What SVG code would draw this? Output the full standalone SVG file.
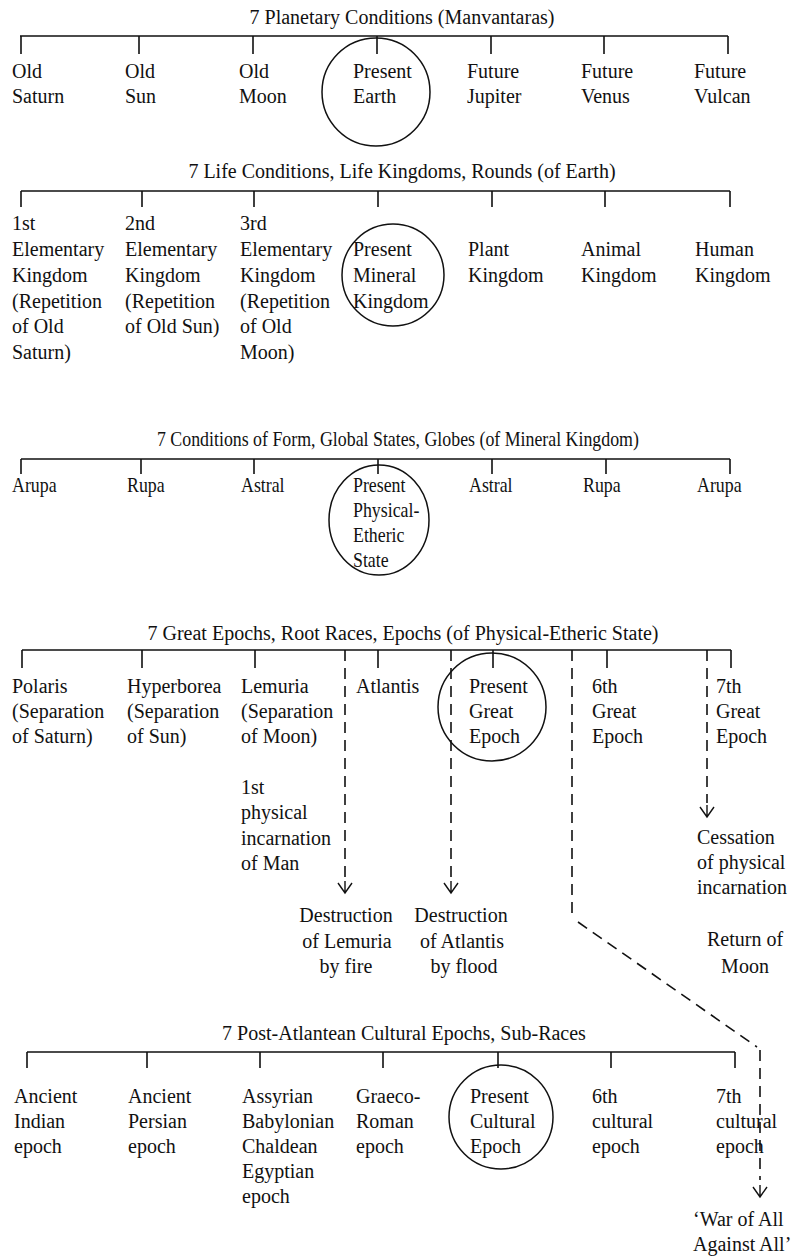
<svg xmlns="http://www.w3.org/2000/svg" width="793" height="1259" viewBox="0 0 793 1259">
<style>
text { font-family: "Liberation Serif", "Times New Roman", serif; font-size: 20px; fill: #111; }
.mid { text-anchor: middle; }
.cond { font-size: 21px; }
.ln { stroke: #111; stroke-width: 1.6; fill: none; }
.dash { stroke: #111; stroke-width: 1.6; fill: none; stroke-dasharray: 11 7; }
.ring { stroke: #111; stroke-width: 1.5; fill: none; }
.arr { stroke: #111; stroke-width: 1.4; fill: none; }
</style>
<rect width="793" height="1259" fill="#fff"/>

<g id="connectors">
  <!-- Section 1 -->
  <path class="ln" d="M20 36 H728 M21 36 V54 M139 36 V54 M253 36 V54 M377 36 V54 M491 36 V54 M604 36 V54 M728 36 V54"/>
  <!-- Section 2 -->
  <path class="ln" d="M21 191 H730 M21 191 V207 M142 191 V207 M254 191 V207 M378 191 V207 M492 191 V207 M605 191 V207 M730 191 V207"/>
  <!-- Section 3 -->
  <path class="ln" d="M21 459 H730 M21 459 V474 M141 459 V474 M254 459 V474 M378 459 V474 M492 459 V474 M606 459 V474 M730 459 V474"/>
  <!-- Section 4 -->
  <path class="ln" d="M22 650 H731 M22 650 V668 M142 650 V668 M255 650 V668 M378 650 V668 M493 650 V668 M607 650 V668 M731 650 V668"/>
  <path class="dash" d="M345 650 V880"/>
  <path class="dash" d="M451 650 V880"/>
  <path class="dash" d="M707 650 V803"/>
  <path class="dash" d="M572 650 V913 M578 922 L757 1047 M760 1050 V1180"/>
  <path class="arr" d="M338 883 L345 893 L352 883 M345 881 V893"/>
  <path class="arr" d="M444 883 L451 893 L458 883 M451 881 V893"/>
  <path class="arr" d="M700 807 L707 817 L714 807 M707 805 V817"/>
  <path class="arr" d="M753 1187 L760 1197 L767 1187 M760 1185 V1197"/>
  <!-- Section 5 -->
  <path class="ln" d="M27 1052 H735 M27 1052 V1068 M147 1052 V1068 M260 1052 V1068 M383 1052 V1068 M498 1052 V1068 M611 1052 V1068 M735 1052 V1068"/>
</g>

<!-- Section 1 -->
<g id="title-planetary"><text class="mid" x="402" y="24">7 Planetary Conditions (Manvantaras)</text></g>
<g id="old-saturn"><text x="12" y="78">Old</text><text x="12" y="103">Saturn</text></g>
<g id="old-sun"><text x="125" y="78">Old</text><text x="125" y="103">Sun</text></g>
<g id="old-moon"><text x="239" y="78">Old</text><text x="239" y="103">Moon</text></g>
<g id="present-earth"><circle class="ring" cx="376" cy="92" r="54"/><text x="353" y="78">Present</text><text x="353" y="103">Earth</text></g>
<g id="future-jupiter"><text x="467" y="78">Future</text><text x="467" y="103">Jupiter</text></g>
<g id="future-venus"><text x="581" y="78">Future</text><text x="581" y="103">Venus</text></g>
<g id="future-vulcan"><text x="694" y="78">Future</text><text x="694" y="103">Vulcan</text></g>

<!-- Section 2 -->
<g id="title-life"><text class="mid" x="402" y="178">7 Life Conditions, Life Kingdoms, Rounds (of Earth)</text></g>
<g id="elem-1"><text x="12" y="230">1st</text><text x="12" y="256">Elementary</text><text x="12" y="282">Kingdom</text><text x="12" y="308">(Repetition</text><text x="12" y="333">of Old</text><text x="12" y="359">Saturn)</text></g>
<g id="elem-2"><text x="125" y="230">2nd</text><text x="125" y="256">Elementary</text><text x="125" y="282">Kingdom</text><text x="125" y="308">(Repetition</text><text x="125" y="333">of Old Sun)</text></g>
<g id="elem-3"><text x="240" y="230">3rd</text><text x="240" y="256">Elementary</text><text x="240" y="282">Kingdom</text><text x="240" y="308">(Repetition</text><text x="240" y="333">of Old</text><text x="240" y="359">Moon)</text></g>
<g id="present-mineral"><circle class="ring" cx="393" cy="275" r="51"/><text x="353" y="256">Present</text><text x="353" y="282">Mineral</text><text x="353" y="308">Kingdom</text></g>
<g id="plant"><text x="468" y="256">Plant</text><text x="468" y="282">Kingdom</text></g>
<g id="animal"><text x="581" y="256">Animal</text><text x="581" y="282">Kingdom</text></g>
<g id="human"><text x="695" y="256">Human</text><text x="695" y="282">Kingdom</text></g>

<!-- Section 3 (condensed type) -->
<g id="title-form"><text class="cond" transform="matrix(0.85 0 0 1 157 446)">7 Conditions of Form, Global States, Globes (of Mineral Kingdom)</text></g>
<g id="arupa-1"><text class="cond" transform="matrix(0.85 0 0 1 12 492)">Arupa</text></g>
<g id="rupa-1"><text class="cond" transform="matrix(0.85 0 0 1 127 492)">Rupa</text></g>
<g id="astral-1"><text class="cond" transform="matrix(0.85 0 0 1 241 492)">Astral</text></g>
<g id="present-physical"><ellipse class="ring" cx="379" cy="520" rx="50" ry="55"/>
  <text class="cond" transform="matrix(0.85 0 0 1 353 492)">Present</text>
  <text class="cond" transform="matrix(0.85 0 0 1 353 517)">Physical-</text>
  <text class="cond" transform="matrix(0.85 0 0 1 353 542)">Etheric</text>
  <text class="cond" transform="matrix(0.85 0 0 1 353 567)">State</text></g>
<g id="astral-2"><text class="cond" transform="matrix(0.85 0 0 1 469 492)">Astral</text></g>
<g id="rupa-2"><text class="cond" transform="matrix(0.85 0 0 1 583 492)">Rupa</text></g>
<g id="arupa-2"><text class="cond" transform="matrix(0.85 0 0 1 697 492)">Arupa</text></g>

<!-- Section 4 -->
<g id="title-great"><text class="mid" x="403" y="640">7 Great Epochs, Root Races, Epochs (of Physical-Etheric State)</text></g>
<g id="polaris"><text x="12" y="693">Polaris</text><text x="12" y="718">(Separation</text><text x="12" y="743">of Saturn)</text></g>
<g id="hyperborea"><text x="127" y="693">Hyperborea</text><text x="127" y="718">(Separation</text><text x="127" y="743">of Sun)</text></g>
<g id="lemuria"><text x="241" y="693">Lemuria</text><text x="241" y="718">(Separation</text><text x="241" y="743">of Moon)</text></g>
<g id="first-incarnation"><text x="241" y="794">1st</text><text x="241" y="819">physical</text><text x="241" y="845">incarnation</text><text x="241" y="870">of Man</text></g>
<g id="atlantis"><text x="356" y="693">Atlantis</text></g>
<g id="present-great"><circle class="ring" cx="492" cy="707" r="54"/><text x="469" y="693">Present</text><text x="469" y="718">Great</text><text x="469" y="743">Epoch</text></g>
<g id="great-6"><text x="592" y="693">6th</text><text x="592" y="718">Great</text><text x="592" y="743">Epoch</text></g>
<g id="great-7"><text x="716" y="693">7th</text><text x="716" y="718">Great</text><text x="716" y="743">Epoch</text></g>
<g id="destruction-lemuria"><text class="mid" x="346" y="922">Destruction</text><text class="mid" x="347" y="948">of Lemuria</text><text class="mid" x="346" y="973">by fire</text></g>
<g id="destruction-atlantis"><text class="mid" x="461" y="922">Destruction</text><text class="mid" x="462" y="948">of Atlantis</text><text class="mid" x="464" y="973">by flood</text></g>
<g id="cessation"><text x="697" y="844">Cessation</text><text x="697" y="869">of physical</text><text x="697" y="894">incarnation</text></g>
<g id="return-moon"><text class="mid" x="745" y="946">Return of</text><text class="mid" x="745" y="973">Moon</text></g>

<!-- Section 5 -->
<g id="title-cultural"><text class="mid" x="404" y="1040">7 Post-Atlantean Cultural Epochs, Sub-Races</text></g>
<g id="indian"><text x="14" y="1103">Ancient</text><text x="14" y="1128">Indian</text><text x="14" y="1153">epoch</text></g>
<g id="persian"><text x="128" y="1103">Ancient</text><text x="128" y="1128">Persian</text><text x="128" y="1153">epoch</text></g>
<g id="egyptian"><text x="242" y="1103">Assyrian</text><text x="242" y="1128">Babylonian</text><text x="242" y="1153">Chaldean</text><text x="242" y="1178">Egyptian</text><text x="242" y="1203">epoch</text></g>
<g id="graeco-roman"><text x="356" y="1103">Graeco-</text><text x="356" y="1128">Roman</text><text x="356" y="1153">epoch</text></g>
<g id="present-cultural"><circle class="ring" cx="501" cy="1117" r="52"/><text x="470" y="1103">Present</text><text x="470" y="1128">Cultural</text><text x="470" y="1153">Epoch</text></g>
<g id="cultural-6"><text x="592" y="1103">6th</text><text x="592" y="1128">cultural</text><text x="592" y="1153">epoch</text></g>
<g id="cultural-7"><text x="716" y="1103">7th</text><text x="716" y="1128">cultural</text><text x="716" y="1153">epoch</text></g>
<g id="war"><text x="693" y="1226">‘War of All</text><text x="693" y="1251">Against All’</text></g>
</svg>
